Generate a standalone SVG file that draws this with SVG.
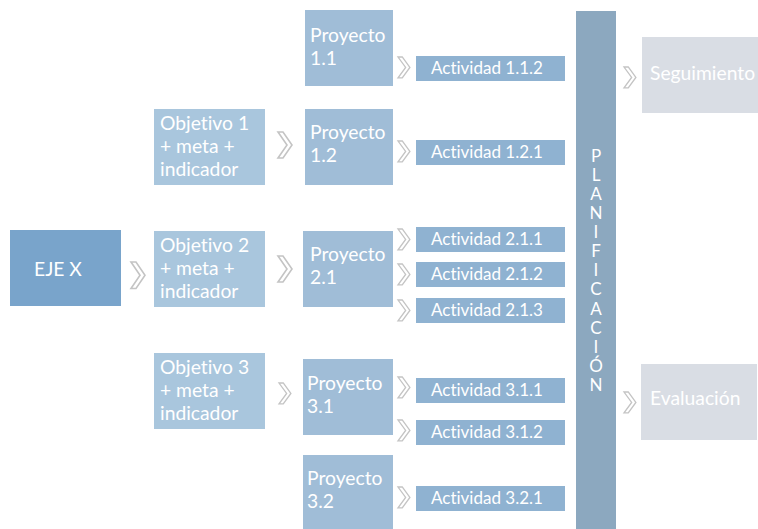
<svg xmlns="http://www.w3.org/2000/svg" width="758" height="529" viewBox="0 0 758 529">
  <defs>
    <style>
      text { font-family: Lato, "Noto Sans", "DejaVu Sans", sans-serif; fill: #ffffff; font-variant-ligatures: none; }
      .eje { fill: #79a4cb; }
      .obj { fill: #a9c6dd; }
      .proy { fill: #a0bdd7; }
      .act { fill: #8fb2d1; }
      .plan { fill: #8ca8bf; }
      .out { fill: #d9dde4; }
      .t17 { font-size: 19.3px; }
      .t15 { font-size: 17px; }
      .vert { font-size: 17px; text-anchor: middle; }
      .chev { fill: #ffffff; stroke: #c4c4c4; stroke-width: 1.6; stroke-linejoin: miter; }
    </style>
    <!-- hollow chevron, scaled per use -->
    <polygon id="chevron" points="0,0 5,0 14,13 5,26 0,26 9,13"/>
  </defs>

  <!-- nodes -->
  <g id="eje-x">
    <rect class="eje" x="10" y="230" width="111" height="76"/>
    <text class="t17" x="34" y="276">EJE X</text>
  </g>

  <g id="objetivo-1">
    <rect class="obj" x="154" y="109" width="111" height="76"/>
    <text class="t17" x="160" y="130">Objetivo 1</text>
    <text class="t17" x="160" y="153">+ meta +</text>
    <text class="t17" x="160" y="176">indicador</text>
  </g>
  <g id="objetivo-2">
    <rect class="obj" x="154" y="231" width="111" height="76"/>
    <text class="t17" x="160" y="252">Objetivo 2</text>
    <text class="t17" x="160" y="275">+ meta +</text>
    <text class="t17" x="160" y="298">indicador</text>
  </g>
  <g id="objetivo-3">
    <rect class="obj" x="154" y="353" width="111" height="76"/>
    <text class="t17" x="160" y="374">Objetivo 3</text>
    <text class="t17" x="160" y="397">+ meta +</text>
    <text class="t17" x="160" y="420">indicador</text>
  </g>

  <g id="proyecto-1-1">
    <rect class="proy" x="305" y="10" width="88" height="76"/>
    <text class="t17" x="310" y="42">Proyecto</text>
    <text class="t17" x="310" y="65">1.1</text>
  </g>
  <g id="proyecto-1-2">
    <rect class="proy" x="305" y="109" width="88" height="76"/>
    <text class="t17" x="310" y="139">Proyecto</text>
    <text class="t17" x="310" y="162">1.2</text>
  </g>
  <g id="proyecto-2-1">
    <rect class="proy" x="303" y="231" width="90" height="76"/>
    <text class="t17" x="310" y="261">Proyecto</text>
    <text class="t17" x="310" y="284">2.1</text>
  </g>
  <g id="proyecto-3-1">
    <rect class="proy" x="303" y="359" width="90" height="76"/>
    <text class="t17" x="307" y="390">Proyecto</text>
    <text class="t17" x="307" y="413">3.1</text>
  </g>
  <g id="proyecto-3-2">
    <rect class="proy" x="303" y="455" width="90" height="74"/>
    <text class="t17" x="307" y="485">Proyecto</text>
    <text class="t17" x="307" y="508">3.2</text>
  </g>

  <g id="actividad-1-1-2">
    <rect class="act" x="416" y="56" width="149" height="25"/>
    <text class="t15" x="431" y="74">Actividad 1.1.2</text>
  </g>
  <g id="actividad-1-2-1">
    <rect class="act" x="416" y="140" width="149" height="25"/>
    <text class="t15" x="431" y="158">Actividad 1.2.1</text>
  </g>
  <g id="actividad-2-1-1">
    <rect class="act" x="416" y="227" width="149" height="25"/>
    <text class="t15" x="431" y="245">Actividad 2.1.1</text>
  </g>
  <g id="actividad-2-1-2">
    <rect class="act" x="416" y="262" width="149" height="25"/>
    <text class="t15" x="431" y="280">Actividad 2.1.2</text>
  </g>
  <g id="actividad-2-1-3">
    <rect class="act" x="416" y="298" width="149" height="25"/>
    <text class="t15" x="431" y="316">Actividad 2.1.3</text>
  </g>
  <g id="actividad-3-1-1">
    <rect class="act" x="416" y="378" width="149" height="25"/>
    <text class="t15" x="431" y="396">Actividad 3.1.1</text>
  </g>
  <g id="actividad-3-1-2">
    <rect class="act" x="416" y="420" width="149" height="25"/>
    <text class="t15" x="431" y="438">Actividad 3.1.2</text>
  </g>
  <g id="actividad-3-2-1">
    <rect class="act" x="416" y="486" width="149" height="25"/>
    <text class="t15" x="431" y="504">Actividad 3.2.1</text>
  </g>

  <g id="planificacion">
    <rect class="plan" x="576" y="11" width="40" height="518"/>
    <text class="vert" x="596" y="162">P</text>
    <text class="vert" x="596" y="181">L</text>
    <text class="vert" x="596" y="200">A</text>
    <text class="vert" x="596" y="219">N</text>
    <text class="vert" x="596" y="238">I</text>
    <text class="vert" x="596" y="257">F</text>
    <text class="vert" x="596" y="276">I</text>
    <text class="vert" x="596" y="295">C</text>
    <text class="vert" x="596" y="315">A</text>
    <text class="vert" x="596" y="334">C</text>
    <text class="vert" x="596" y="353">I</text>
    <text class="vert" x="596" y="372">Ó</text>
    <text class="vert" x="596" y="391">N</text>
  </g>

  <g id="seguimiento">
    <rect class="out" x="642" y="37" width="116" height="76"/>
    <text class="t17" x="650" y="80">Seguimiento</text>
  </g>
  <g id="evaluacion">
    <rect class="out" x="641" y="364" width="116" height="76"/>
    <text class="t17" x="650" y="405">Evaluación</text>
  </g>

  <!-- connectors: chevrons between columns -->
  <g id="connectors">
    <use href="#chevron" class="chev" transform="translate(131,262) scale(1,1.02)"/>
    <use href="#chevron" class="chev" transform="translate(278,132) scale(1,1)"/>
    <use href="#chevron" class="chev" transform="translate(278,256) scale(1,1)"/>
    <use href="#chevron" class="chev" transform="translate(279,383) scale(0.85,0.8)"/>
    <use href="#chevron" class="chev" transform="translate(398,57) scale(0.85,0.8)"/>
    <use href="#chevron" class="chev" transform="translate(398,141) scale(0.85,0.8)"/>
    <use href="#chevron" class="chev" transform="translate(398,229) scale(0.85,0.8)"/>
    <use href="#chevron" class="chev" transform="translate(398,264) scale(0.85,0.8)"/>
    <use href="#chevron" class="chev" transform="translate(398,300) scale(0.85,0.8)"/>
    <use href="#chevron" class="chev" transform="translate(398,377) scale(0.85,0.8)"/>
    <use href="#chevron" class="chev" transform="translate(398,420) scale(0.85,0.8)"/>
    <use href="#chevron" class="chev" transform="translate(398,487) scale(0.85,0.8)"/>
    <use href="#chevron" class="chev" transform="translate(624,67) scale(0.85,0.8)"/>
    <use href="#chevron" class="chev" transform="translate(624,392) scale(0.85,0.8)"/>
  </g>
</svg>
